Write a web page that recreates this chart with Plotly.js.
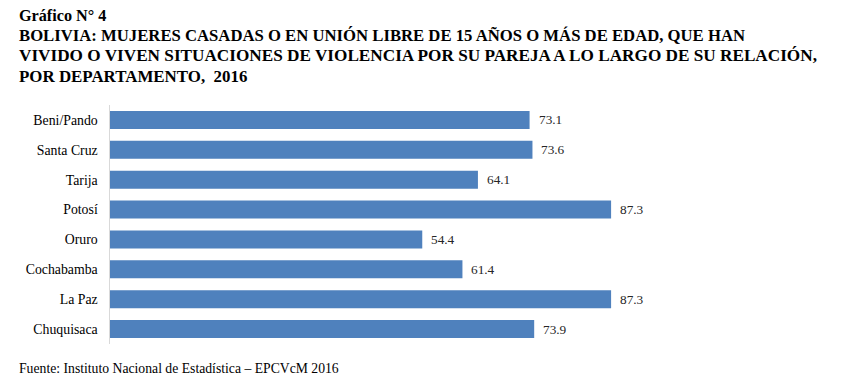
<!DOCTYPE html>
<html><head><meta charset="utf-8">
<script src="https://cdn.plot.ly/plotly-3.0.1.min.js"></script>
<style>html,body{margin:0;padding:0;background:#fff}#chart{width:843px;height:387px}</style>
</head><body><div id="chart"></div>
<script>
const departamentos = ["Beni/Pando","Santa Cruz","Tarija","Potosí","Oruro","Cochabamba","La Paz","Chuquisaca"];
const porcentajes = [73.1, 73.6, 64.1, 87.3, 54.4, 61.4, 87.3, 73.9];
const tituloLineas = [
  "Gráfico N° 4",
  "BOLIVIA: MUJERES CASADAS O EN UNIÓN LIBRE DE 15 AÑOS O MÁS DE EDAD, QUE HAN",
  "VIVIDO O VIVEN SITUACIONES DE VIOLENCIA POR SU PAREJA A LO LARGO DE SU RELACIÓN,",
  "POR DEPARTAMENTO,  2016"
];
const fuente = "Fuente: Instituto Nacional de Estadística – EPCVcM 2016";

const SERIF = "Liberation Serif";
const L = 109.5, T = 104.5, W = 575, H = 240;
const px2x = p => (p - L) / W;
const py2y = p => (T + H - p) / H;

const annotations = [];
const titleY = [15, 34.5, 55, 75.5];
const titleSize = [16.2, 16.7, 17.2, 16.9];
tituloLineas.forEach((t, i) => annotations.push({
  text: "<b>" + t + "</b>", xref: "paper", yref: "paper",
  x: px2x(16), y: py2y(titleY[i]), xanchor: "left", yanchor: "middle",
  showarrow: false, font: {family: SERIF, size: titleSize[i], color: "#000"}
}));
annotations.push({
  text: fuente, xref: "paper", yref: "paper", x: px2x(16), y: py2y(369),
  xanchor: "left", yanchor: "middle", showarrow: false,
  font: {family: SERIF, size: 13.7, color: "#000"}
});
departamentos.forEach((d, i) => annotations.push({
  text: porcentajes[i].toFixed(1), x: porcentajes[i], y: d, xref: "x", yref: "y",
  xanchor: "left", yanchor: "middle", xshift: 7, showarrow: false,
  font: {family: SERIF, size: 13.3, color: "#262626"}
}));

const data = [{
  type: "bar", orientation: "h", x: porcentajes, y: departamentos,
  marker: {color: "#4f81bd"}, hoverinfo: "none"
}];

const layout = {
  width: 843, height: 387,
  margin: {l: L, r: 843 - L - W, t: T, b: 387 - T - H, pad: 0},
  paper_bgcolor: "#fff", plot_bgcolor: "#fff",
  showlegend: false, bargap: 0.4,
  font: {family: SERIF},
  xaxis: {range: [0, 100], visible: false, fixedrange: true},
  yaxis: {
    type: "category", categoryorder: "array", categoryarray: departamentos,
    autorange: "reversed", showline: true, linecolor: "#d9d9d9", linewidth: 1.5,
    showgrid: false, zeroline: false, ticks: "", ticklabelstandoff: 8,
    tickfont: {family: SERIF, size: 13.8, color: "#000"}
  },
  annotations: annotations
};
Plotly.newPlot("chart", data, layout, {displayModeBar: false, staticPlot: true});
</script></body></html>
